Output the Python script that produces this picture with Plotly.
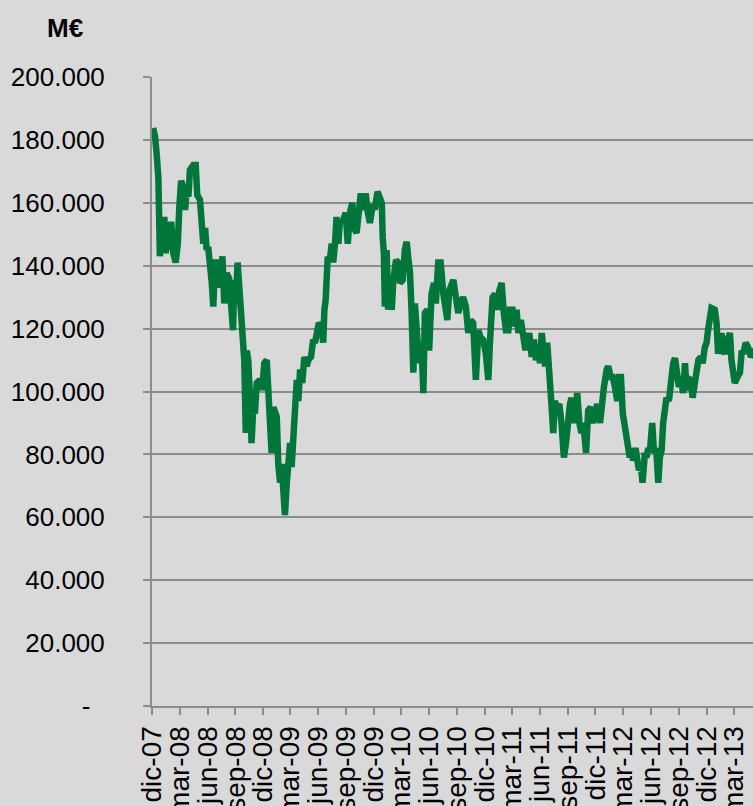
import pandas as pd
import plotly.graph_objects as go

# ---- data ----
start_date = "2007-12-01"
# elapsed days since start_date for each observation
day_offset = [
    4, 10, 15, 21, 26, 34, 41, 45, 52, 56, 63, 70, 78, 85, 90, 96, 103, 109, 114, 120,
    125, 136, 144, 149, 158, 164, 169, 175, 180, 185, 191, 197, 202, 208, 213, 218, 224, 232, 238, 246,
    254, 260, 267, 271, 276, 282, 288, 295, 297, 304, 309, 312, 317, 323, 328, 334, 339, 345, 356, 363,
    370, 378, 385, 394, 400, 411, 416, 422, 427, 433, 438, 444, 449, 455, 460, 465, 471, 477, 482, 488,
    495, 502, 510, 515, 524, 531, 537, 543, 550, 559, 564, 568, 572, 579, 586, 592, 597, 603, 608, 614,
    619, 627, 633, 638, 645, 652, 660, 666, 674, 680, 688, 696, 704, 711, 718, 726, 735, 743, 751, 757,
    760, 764, 767, 773, 778, 784, 790, 795, 804, 811, 817, 826, 833, 839, 844, 850, 855, 861, 866, 872,
    880, 888, 894, 899, 907, 913, 921, 929, 935, 943, 951, 960, 965, 973, 979, 987, 993, 1001, 1009, 1017,
    1025, 1034, 1042, 1050, 1058, 1067, 1075, 1083, 1091, 1100, 1108, 1113, 1122, 1130, 1137, 1144, 1152, 1159, 1166, 1174,
    1179, 1188, 1196, 1201, 1207, 1215, 1221, 1229, 1236, 1243, 1251, 1258, 1265, 1273, 1278, 1284, 1289, 1295, 1302, 1309,
    1313, 1316, 1322, 1327, 1333, 1342, 1349, 1357, 1364, 1371, 1377, 1382, 1388, 1397, 1401, 1408, 1415, 1421, 1430, 1437,
    1445, 1452, 1459, 1467, 1476, 1481, 1489, 1498, 1503, 1511, 1518, 1525, 1533, 1539, 1545, 1551, 1557, 1563, 1568, 1574,
    1580, 1585, 1593, 1600, 1604, 1611, 1616, 1624, 1629, 1635, 1640, 1648, 1654, 1661, 1668, 1673, 1679, 1684, 1687, 1695,
    1703, 1710, 1717, 1723, 1728, 1736, 1743, 1750, 1756, 1761, 1769, 1776, 1781, 1789, 1794, 1800, 1808, 1814, 1821, 1827,
    1832, 1838, 1843, 1854, 1860, 1865, 1871, 1876, 1882, 1887, 1896, 1904, 1909, 1915, 1920, 1929, 1937, 1943, 1948, 1956,
    1964, 1973, 1979, 1986,
]
# capitalisation in thousands of M€
value_k = [
    183.8, 181, 176, 168, 143, 154.5, 154.5, 144, 152, 145, 154, 144, 141, 147, 158.7, 167, 165, 157.7, 164, 162,
    170.5, 172, 172, 162.5, 161, 152, 147, 152, 145, 146, 136, 134.5, 127, 142, 133, 142, 133, 143, 128, 137.6,
    136, 126, 119.5, 135.5, 128, 141, 133, 126, 117, 110, 86.8, 113, 110, 98, 83.6, 96, 93, 102.7, 103.7, 100.5,
    109, 110, 96, 80.5, 95, 92, 77, 71, 77, 66.5, 60.7, 71, 82, 83.6, 76, 87.8, 98, 103.7, 97, 107,
    102.7, 111, 108, 110, 111, 116.5, 115.5, 118.6, 121.8, 120.7, 115.5, 126, 129, 142.8, 141.8, 147, 141, 147, 155.5, 147,
    154.5, 153.6, 155.5, 156.8, 147, 156.8, 160, 152, 150.4, 158.7, 163, 157.7, 163, 156.8, 153.6, 158.7, 158.7, 163.5, 162, 160,
    149, 144, 127, 145, 126, 135.5, 126, 135.5, 141.8, 141, 134.5, 135.5, 145, 147.6, 142.8, 137.6, 126, 106, 128, 120.7,
    109, 115.5, 99.5, 125, 126, 113, 131, 134.5, 128, 141, 141, 131, 127, 122.7, 132, 134.5, 135.5, 130, 125, 128,
    130, 127, 118.6, 122.7, 121.8, 103.7, 119.5, 117, 116.5, 112, 103.7, 115, 130, 131, 126, 132, 134.5, 125, 119.5, 119.5,
    126, 126, 120.7, 126, 118.6, 122.7, 117, 114, 114, 118.6, 111, 116.5, 110, 114, 109, 118.6, 114, 108, 115.5, 108,
    100.5, 96, 86.8, 97, 95, 96, 90, 79, 83.6, 93, 96, 98, 90, 96, 99.5, 90, 86.8, 90, 80.5, 94,
    95, 90, 93, 96, 90, 97, 101.5, 107, 108, 104.6, 104.6, 101.5, 97, 104.6, 104.6, 93, 90, 86.8, 83.6, 79,
    82, 78, 82, 78, 75, 76, 71, 80.5, 79, 82, 80.5, 90, 80.5, 82, 71, 79, 81.4, 90, 92, 98,
    97, 103.7, 109, 110.6, 108, 101.5, 103.7, 99.5, 109, 100.5, 104, 103.7, 98, 103.7, 107, 110, 111, 109, 114, 115.5,
    119.5, 123.7, 126.5, 126, 121.8, 112, 116.5, 118.6, 113, 112, 116.5, 118.6, 110, 104.6, 102.7, 104.6, 106, 113, 112, 115.5,
    114, 111, 112, 111,
]

tick_dates = [
    "2007-12-01", "2008-03-01", "2008-06-01", "2008-09-01", "2008-12-01",
    "2009-03-01", "2009-06-01", "2009-09-01", "2009-12-01",
    "2010-03-01", "2010-06-01", "2010-09-01", "2010-12-01",
    "2011-03-01", "2011-06-01", "2011-09-01", "2011-12-01",
    "2012-03-01", "2012-06-01", "2012-09-01", "2012-12-01", "2013-03-01",
]
tick_labels = [
    "dic-07", "mar-08", "jun-08", "sep-08", "dic-08",
    "mar-09", "jun-09", "sep-09", "dic-09",
    "mar-10", "jun-10", "sep-10", "dic-10",
    "mar-11", "jun-11", "sep-11", "dic-11",
    "mar-12", "jun-12", "sep-12", "dic-12", "mar-13",
]
y_ticks = [0, 20, 40, 60, 80, 100, 120, 140, 160, 180, 200]
y_labels = ["-\u00a0\u00a0", "20.000", "40.000", "60.000", "80.000", "100.000",
            "120.000", "140.000", "160.000", "180.000", "200.000"]
unit_label = "M€"

dates = pd.Timestamp(start_date) + pd.to_timedelta(day_offset, unit="D")

BG = "#D9D9D9"
GRID = "#8C8C8C"
FONT = "Liberation Sans, Arial, sans-serif"

fig = go.Figure()
fig.add_trace(go.Scatter(
    x=dates, y=value_k, mode="lines",
    line=dict(color="#00763A", width=6.5),
    hoverinfo="skip", showlegend=False,
))

fig.update_layout(
    width=753, height=806,
    paper_bgcolor=BG, plot_bgcolor=BG,
    margin=dict(l=152, r=0, t=77, b=100, pad=0),
    font=dict(family=FONT, size=26, color="#000000"),
    xaxis=dict(
        type="date", automargin=False,
        range=[pd.Timestamp(start_date), pd.Timestamp(start_date) + pd.Timedelta(days=1980)],
        tickmode="array", tickvals=tick_dates, ticktext=tick_labels,
        tickangle=-90, ticks="outside", ticklen=7, tickwidth=2, tickcolor=GRID,
        showline=True, linecolor=GRID, linewidth=2,
        showgrid=False, zeroline=False,
        tickfont=dict(family=FONT, size=28, color="#000000"),
    ),
    yaxis=dict(
        range=[0, 200], automargin=False,
        tickmode="array", tickvals=y_ticks, ticktext=y_labels,
        ticks="outside", ticklen=7, tickwidth=2, tickcolor=GRID,
        showline=True, linecolor=GRID, linewidth=2,
        showgrid=True, gridcolor=GRID, gridwidth=2,
        zeroline=False,
        ticklabelstandoff=33,
        tickfont=dict(family=FONT, size=26, color="#000000"),
    ),
    annotations=[dict(
        text=f"<b>{unit_label}</b>", xref="paper", yref="paper",
        x=-0.145, y=1.0, xanchor="center", yanchor="bottom", yshift=32,
        showarrow=False, font=dict(family=FONT, size=26, color="#000000"),
    )],
)

fig.write_html(
    "out.html",
    config={"displayModeBar": False},
    post_script="document.body.style.margin='0';document.body.style.overflow='hidden';"
                "document.body.style.background='#D9D9D9';",
)
